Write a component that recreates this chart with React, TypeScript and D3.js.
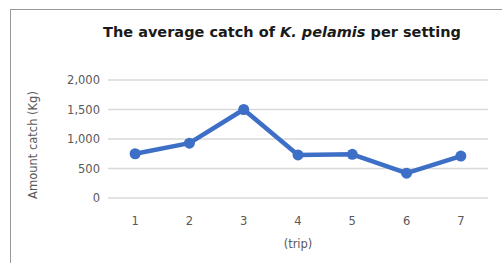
import { useEffect, useRef } from "react";
import * as d3 from "d3";

const trips = ["1", "2", "3", "4", "5", "6", "7"];
const catchKg = [750, 930, 1500, 730, 740, 420, 710];
const yTicks = [0, 500, 1000, 1500, 2000];

const W = 502,
  H = 263;

export default function App() {
  const ref = useRef<SVGSVGElement>(null);

  useEffect(() => {
    const svg = d3.select(ref.current);
    svg.selectAll("*").remove();

    const left = 108,
      right = 488,
      top = 80,
      bottom = 198;

    const x = d3.scalePoint().domain(trips).range([left, right]).padding(0.5);
    const y = d3.scaleLinear().domain([0, 2000]).range([bottom, top]);

    svg
      .append("rect")
      .attr("x", 10.5)
      .attr("y", 9.5)
      .attr("width", W)
      .attr("height", H)
      .attr("fill", "#fff")
      .attr("stroke", "#999");

    const font = "DejaVu Sans, Verdana, sans-serif";

    const title = svg
      .append("text")
      .attr("x", 282)
      .attr("y", 37)
      .attr("text-anchor", "middle")
      .attr("font-family", font)
      .attr("font-size", 14.5)
      .attr("font-weight", "bold")
      .attr("fill", "#1a1a1a");
    title.append("tspan").text("The average catch of ");
    title.append("tspan").attr("font-style", "italic").text("K. pelamis");
    title.append("tspan").text(" per setting");

    svg
      .append("g")
      .selectAll("line")
      .data(yTicks)
      .enter()
      .append("line")
      .attr("x1", left)
      .attr("x2", right)
      .attr("y1", (d) => y(d))
      .attr("y2", (d) => y(d))
      .attr("stroke", "#d9d9d9")
      .attr("stroke-width", 1.3);

    svg
      .append("g")
      .selectAll("text")
      .data(yTicks)
      .enter()
      .append("text")
      .attr("x", 100)
      .attr("y", (d) => y(d) + 4)
      .attr("text-anchor", "end")
      .attr("font-family", font)
      .attr("font-size", 11.5)
      .attr("fill", "#595959")
      .text((d) => d3.format(",")(d));

    svg
      .append("g")
      .selectAll("text")
      .data(trips)
      .enter()
      .append("text")
      .attr("x", (d) => x(d)!)
      .attr("y", 225)
      .attr("text-anchor", "middle")
      .attr("font-family", font)
      .attr("font-size", 11.5)
      .attr("fill", "#595959")
      .text((d) => d);

    svg
      .append("text")
      .attr("x", x("4")!)
      .attr("y", 248)
      .attr("text-anchor", "middle")
      .attr("font-family", font)
      .attr("font-size", 11.5)
      .attr("fill", "#595959")
      .text("(trip)");

    svg
      .append("text")
      .attr("transform", `translate(37,145) rotate(-90)`)
      .attr("text-anchor", "middle")
      .attr("font-family", font)
      .attr("font-size", 11.5)
      .attr("fill", "#595959")
      .text("Amount catch (Kg)");

    const line = d3
      .line<number>()
      .x((_, i) => x(trips[i])!)
      .y((d) => y(d));

    svg
      .append("path")
      .datum(catchKg)
      .attr("d", line)
      .attr("fill", "none")
      .attr("stroke", "#3e6fc6")
      .attr("stroke-width", 4.5)
      .attr("stroke-linejoin", "round");

    svg
      .append("g")
      .selectAll("circle")
      .data(catchKg)
      .enter()
      .append("circle")
      .attr("cx", (_, i) => x(trips[i])!)
      .attr("cy", (d) => y(d))
      .attr("r", 5.5)
      .attr("fill", "#3e6fc6");
  }, []);

  return (
    <svg
      ref={ref}
      width={W}
      height={H}
      style={{ position: "absolute", left: 0, top: 0 }}
    />
  );
}
